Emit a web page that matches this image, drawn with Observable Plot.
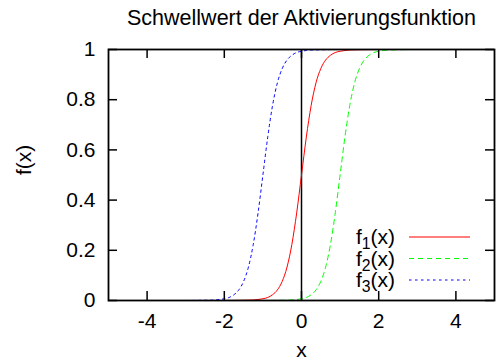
<!DOCTYPE html>
<html><head><meta charset="utf-8">
<script src="https://cdn.jsdelivr.net/npm/d3@7"></script>
<script src="https://cdn.jsdelivr.net/npm/@observablehq/plot@0.6"></script>
<style>body{margin:0;background:#fff}</style>
</head><body><div id="chart"></div>
<script>
// ---- data ----
const title = "Schwellwert der Aktivierungsfunktion";
const xLabel = "x";
const yLabel = "f(x)";
const xTicks = [-4, -2, 0, 2, 4];
const xTickLabels = ["-4", "-2", "0", "2", "4"];
const yTicks = [0, 0.2, 0.4, 0.6, 0.8, 1];
const yTickLabels = ["0", "0.2", "0.4", "0.6", "0.8", "1"];
const seriesBase = ["f", "f", "f"];
const seriesSub = ["1", "2", "3"];

const f1x = [-5, -2, -1.5, -1.25, -1.125, -1, -0.875, -0.75, -0.625, -0.5, -0.375, -0.25, -0.125, 0, 0.125, 0.25, 0.375, 0.5, 0.625, 0.75, 0.875, 1, 1.125, 1.25, 1.5, 2, 5];
const f1y = [0, 0, 0.001, 0.002, 0.004, 0.007, 0.012, 0.023, 0.042, 0.076, 0.133, 0.223, 0.349, 0.5, 0.651, 0.777, 0.867, 0.924, 0.958, 0.977, 0.988, 0.993, 0.996, 0.998, 0.999, 1, 1];
const f2x = [-5, -1, -0.5, -0.25, -0.125, 0, 0.125, 0.25, 0.375, 0.5, 0.625, 0.75, 0.875, 1, 1.125, 1.25, 1.375, 1.5, 1.625, 1.75, 1.875, 2, 2.125, 2.25, 2.5, 3, 5];
const f2y = [0, 0, 0.001, 0.002, 0.004, 0.007, 0.012, 0.023, 0.042, 0.076, 0.133, 0.223, 0.349, 0.5, 0.651, 0.777, 0.867, 0.924, 0.958, 0.977, 0.988, 0.993, 0.996, 0.998, 0.999, 1, 1];
const f3x = [-5, -3, -2.5, -2.25, -2.125, -2, -1.875, -1.75, -1.625, -1.5, -1.375, -1.25, -1.125, -1, -0.875, -0.75, -0.625, -0.5, -0.375, -0.25, -0.125, 0, 0.125, 0.25, 0.5, 1, 5];
const f3y = [0, 0, 0.001, 0.002, 0.004, 0.007, 0.012, 0.023, 0.042, 0.076, 0.133, 0.223, 0.349, 0.5, 0.651, 0.777, 0.867, 0.924, 0.958, 0.977, 0.988, 0.993, 0.996, 0.998, 0.999, 1, 1];
const zeroLineX = [0];

// ---- styles ----
const colors = ["#ff0000", "#00ff00", "#0000ff"];
const dashes = ["none", "5,4", "2.5,3.5"];
const FONT = "'Liberation Sans', Arial, Helvetica, sans-serif";
const FS = 21;
const W = 497, H = 362, ML = 108, MR = 3, MT = 49, MB = 62;
const frameH = H - MT - MB, frameW = W - ML - MR;
const TICK = 9;

const toRows = (xs, ys) => xs.map((x, i) => ({x, y: ys[i]}));
const series = [toRows(f1x, f1y), toRows(f2x, f2y), toRows(f3x, f3y)];

const svg = Plot.plot({
  width: W, height: H,
  marginLeft: ML, marginRight: MR, marginTop: MT, marginBottom: MB,
  style: {fontFamily: FONT, fontSize: FS + "px", background: "#fff", overflow: "visible"},
  x: {domain: [-5, 5], axis: null},
  y: {domain: [0, 1], axis: null},
  marks: [
    Plot.ruleX(zeroLineX, {x: d => d, stroke: "#000", strokeWidth: 1.5}),
    ...series.map((rows, i) => Plot.line(rows, {
      x: "x", y: "y", stroke: colors[i], strokeWidth: 1,
      strokeDasharray: dashes[i], curve: "monotone-x"
    })),
    Plot.tickX(xTicks, {x: d => d, insetTop: frameH - TICK, stroke: "#000", strokeWidth: 1.5}),
    Plot.tickX(xTicks, {x: d => d, insetBottom: frameH - TICK, stroke: "#000", strokeWidth: 1.5}),
    Plot.tickY(yTicks, {y: d => d, insetRight: frameW - TICK, stroke: "#000", strokeWidth: 1.5}),
    Plot.tickY(yTicks, {y: d => d, insetLeft: frameW - TICK, stroke: "#000", strokeWidth: 1.5}),
    Plot.frame({stroke: "#000", strokeWidth: 1.8}),
    Plot.text(xTicks, {x: d => d, text: (d, i) => xTickLabels[i], frameAnchor: "bottom", dy: 21, lineAnchor: "middle", fill: "#000"}),
    Plot.text(yTicks, {y: d => d, text: (d, i) => yTickLabels[i], frameAnchor: "left", dx: -13, textAnchor: "end", lineAnchor: "middle", fill: "#000"}),
    Plot.text([title], {text: d => d, frameAnchor: "top", dy: -31, lineAnchor: "middle", fill: "#000", fontSize: 21.5}),
    Plot.text([xLabel], {text: d => d, frameAnchor: "bottom", dy: 50, lineAnchor: "middle", fill: "#000"}),
    Plot.text([yLabel], {text: d => d, frameAnchor: "left", dx: -84, rotate: -90, lineAnchor: "middle", fill: "#000"})
  ]
});

// legend (inside plot, lower right)
const g = d3.select(svg).append("g").attr("font-family", FONT).attr("font-size", FS);
const legX = 395, legLine0 = 409, legLine1 = 470, legY0 = 237, legDY = 21.5;
seriesSub.forEach((s, i) => {
  const y = legY0 + i * legDY;
  const t = g.append("text").attr("x", legX).attr("y", y).attr("dy", "0.35em")
    .attr("text-anchor", "end").style("fill", "#000");
  t.append("tspan").text(seriesBase[i]);
  t.append("tspan").attr("dy", 5).attr("font-size", FS * 0.75).text(s);
  t.append("tspan").attr("dy", -5).text("(x)");
  g.append("path").attr("d", d3.line()([[legLine0, y], [legLine1, y]]))
    .style("stroke", colors[i]).style("stroke-width", "1.2px").style("fill", "none")
    .style("stroke-dasharray", dashes[i]);
});

document.getElementById("chart").appendChild(svg);
</script>
</body></html>
